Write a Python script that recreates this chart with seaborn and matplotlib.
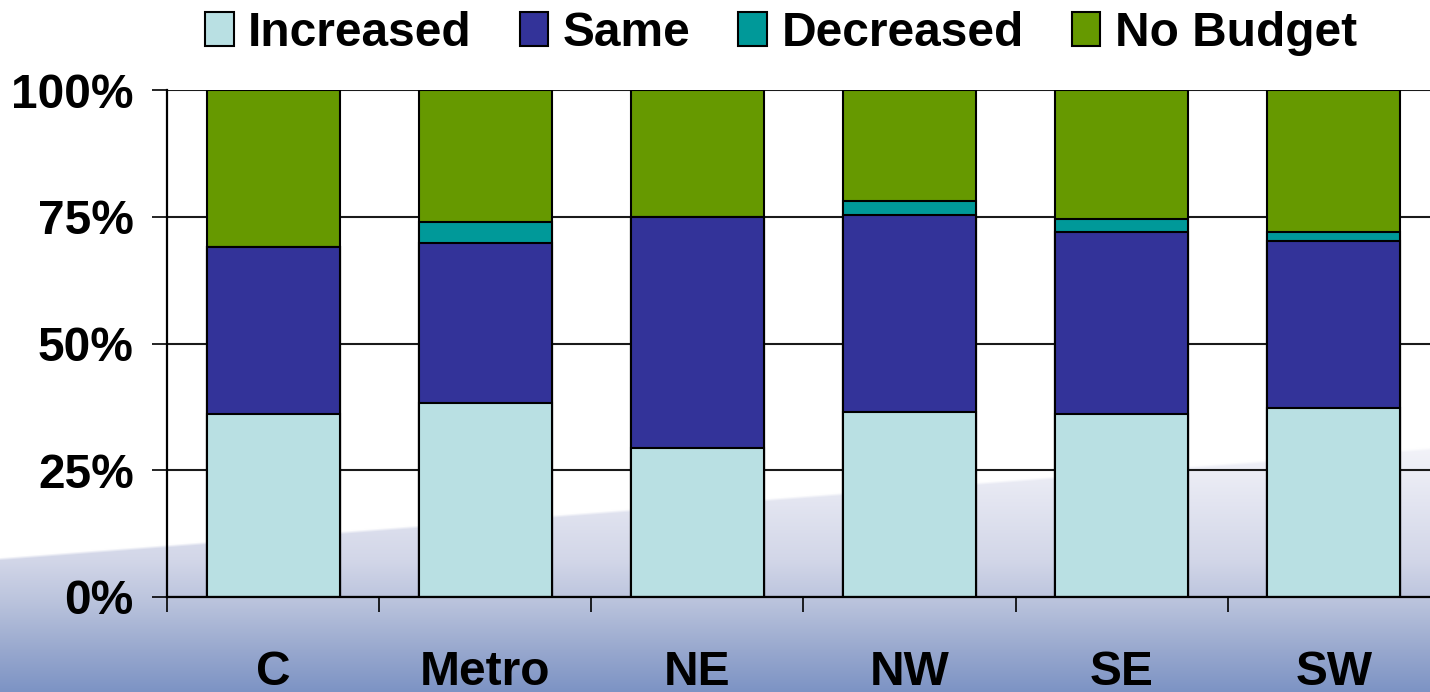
import numpy as np
import pandas as pd
import matplotlib
matplotlib.use("Agg")
import matplotlib.pyplot as plt
from matplotlib.patches import Patch
import seaborn as sns

# Budget change by region, percent of respondents
regions = ["C", "Metro", "NE", "NW", "SE", "SW"]
increased = [36.1, 38.2, 29.3, 36.5, 36.1, 37.2]
same = [32.9, 31.7, 45.7, 38.9, 35.8, 33.0]
decreased = [0.0, 4.1, 0.0, 2.8, 2.7, 1.7]
no_budget = [31.0, 26.0, 25.0, 21.8, 25.4, 28.1]

series_names = ["Increased", "Same", "Decreased", "No Budget"]
series_colors = ["#B9E0E3", "#333399", "#009999", "#669900"]
y_ticks = [0, 25, 50, 75, 100]
y_tick_labels = ["0%", "25%", "50%", "75%", "100%"]

sns.set_style("white")
plt.rcParams["font.family"] = ["Liberation Sans", "DejaVu Sans"]
plt.rcParams["font.weight"] = "bold"
plt.rcParams["text.color"] = "black"
plt.rcParams["xtick.color"] = "black"
plt.rcParams["ytick.color"] = "black"
plt.rcParams["xtick.labelcolor"] = "black"
plt.rcParams["ytick.labelcolor"] = "black"

W, H, DPI = 1430, 692, 100
fig = plt.figure(figsize=(W / DPI, H / DPI), dpi=DPI)
fig.patch.set_facecolor("white")

# Slanted blue gradient backdrop along the lower edge
yy, xx = np.mgrid[0:H, 0:W].astype(float)
stops_y = [440, 560, 600, 650, 692]
stops_c = np.array([[245, 245, 250], [210, 214, 232], [187, 196, 221],
                    [152, 168, 206], [124, 147, 196]], float) / 255
grad = np.stack([np.interp(yy, stops_y, stops_c[:, k]) for k in range(3)], axis=-1)
edge = 557 - 0.077 * xx
mask = np.clip((yy - edge) / 3.0, 0, 1)[..., None]
bg = np.ones((H, W, 3)) * (1 - mask) + grad * mask
ax_bg = fig.add_axes([0, 0, 1, 1], zorder=0)
ax_bg.imshow(bg, aspect="auto", interpolation="bilinear")
ax_bg.axis("off")

# Plot area
left, bottom, top = 167, 597, 90
ax = fig.add_axes([left / W, (H - bottom) / H, 1273 / W, (bottom - top) / H], zorder=1)
ax.set_facecolor("none")

df = pd.DataFrame({"region": regions, "Increased": increased, "Same": same,
                   "Decreased": decreased, "No Budget": no_budget})
cum = df[series_names].cumsum(axis=1)

# Stacked bars: draw cumulative totals from the top segment down
for name, color in reversed(list(zip(series_names, series_colors))):
    sns.barplot(data=cum.assign(region=regions), x="region", y=name, order=regions,
                color=color, saturation=1, width=0.627, edgecolor="black",
                linewidth=1.5, ax=ax, zorder=3)

ax.set_xlim(-0.5, len(regions) - 0.5)
ax.set_ylim(0, 100)
ax.set_yticks(y_ticks)
ax.set_yticklabels(y_tick_labels)
ax.set_xlabel("")
ax.set_ylabel("")

ax.yaxis.grid(True, color="#1a1a1a", linewidth=1.5, zorder=1)
ax.set_axisbelow(True)

for side in ["top", "right"]:
    ax.spines[side].set_visible(False)
for side in ["left", "bottom"]:
    ax.spines[side].set_color("black")
    ax.spines[side].set_linewidth(1.6)
    ax.spines[side].set_zorder(4)

ax.set_xticks(np.arange(len(regions) + 1) - 0.5, minor=True)
ax.tick_params(axis="x", which="minor", bottom=True, length=11, width=1.2,
               color="black", direction="out")
ax.tick_params(axis="x", which="major", bottom=True, length=0, pad=38,
               labelsize=34.5, labelcolor="black")
ax.tick_params(axis="y", which="major", left=True, length=11, width=1.2, color="black",
               direction="out", pad=13, labelsize=34.5, labelcolor="black")
for lab in ax.get_xticklabels() + ax.get_yticklabels():
    lab.set_fontweight("bold")
    lab.set_color("black")

handles = [Patch(facecolor=c, edgecolor="black", linewidth=1.5, label=n)
           for n, c in zip(series_names, series_colors)]
leg = fig.legend(handles=handles, loc="upper center", bbox_to_anchor=(781 / W, 1.047),
                 ncol=4, frameon=False, fontsize=34.5, handlelength=0.6,
                 handleheight=0.7, handletextpad=0.3, columnspacing=1.0)
for t in leg.get_texts():
    t.set_fontweight("bold")
    t.set_color("black")

fig.savefig("out.png", dpi=DPI)
